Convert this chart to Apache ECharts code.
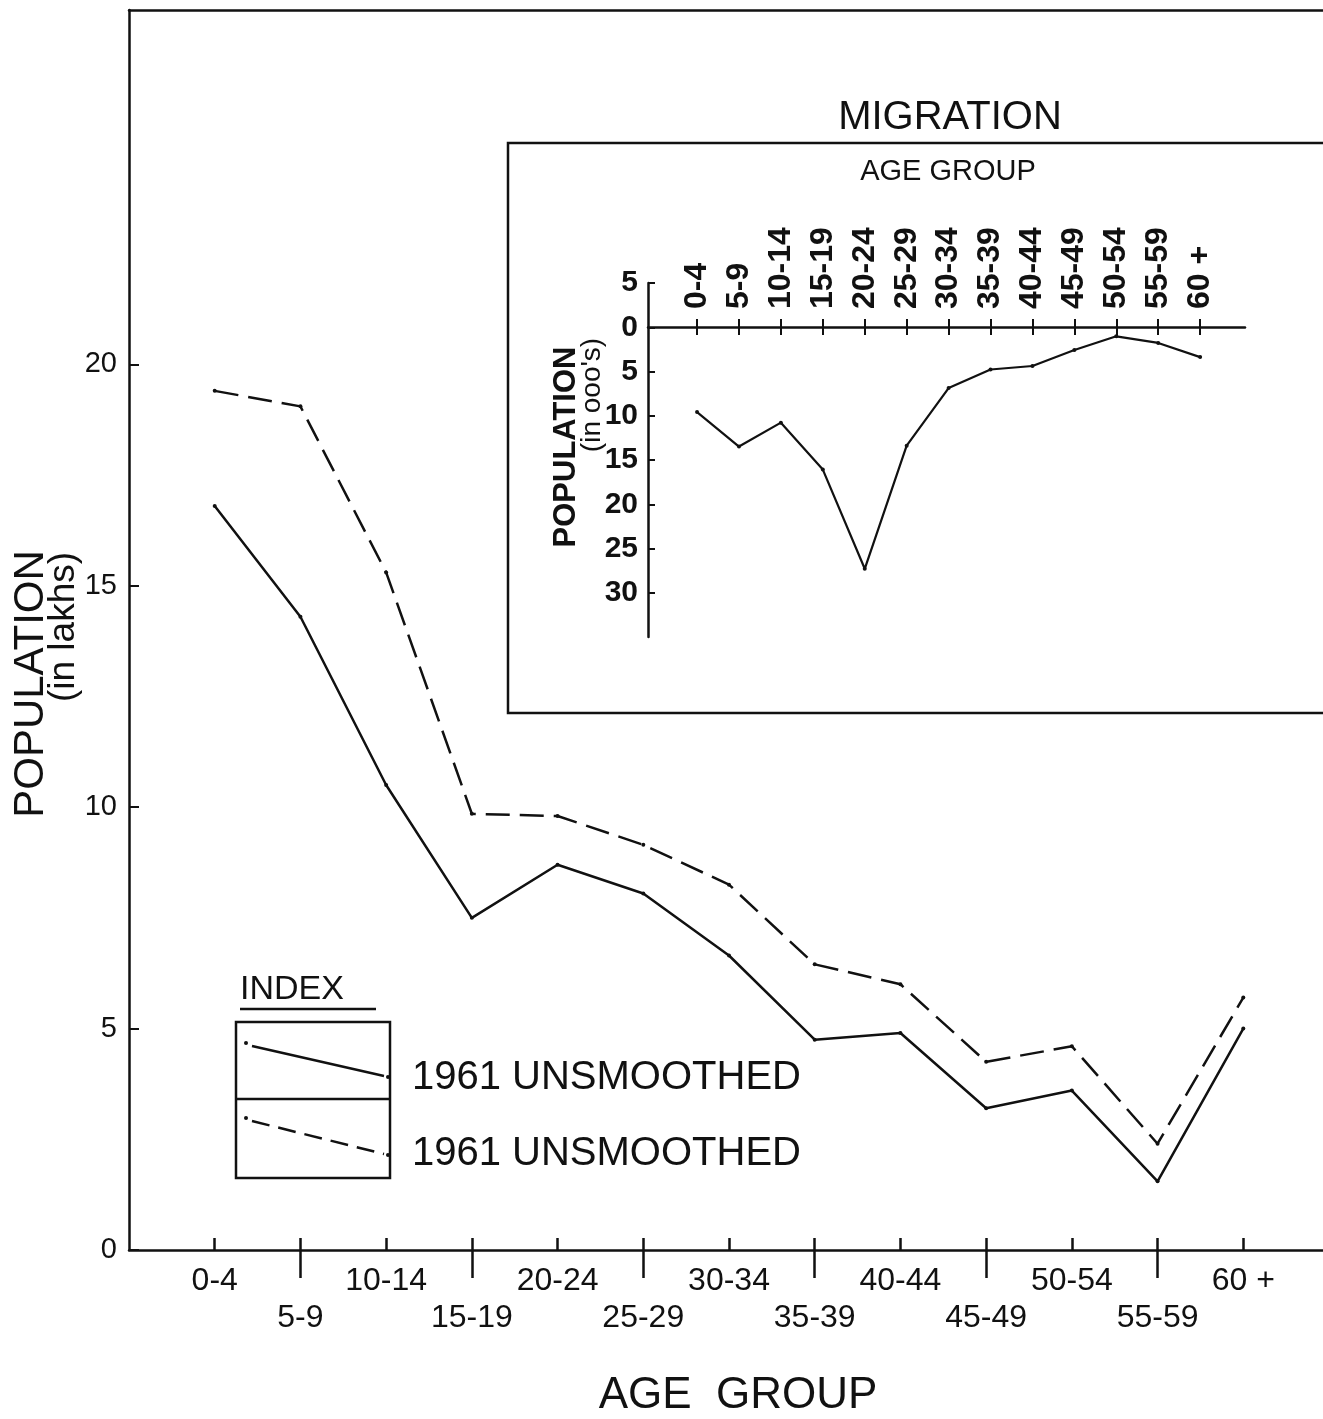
<!DOCTYPE html>
<html>
<head>
<meta charset="utf-8">
<script src="https://cdn.jsdelivr.net/npm/echarts@6/dist/echarts.min.js"></script>
<style>
html,body{margin:0;padding:0;background:#fff;}
#chart{width:1323px;height:1419px;}
</style>
</head>
<body>
<div id="chart"></div>
<script>
// ---- data ----
var ageGroups = ['0-4','5-9','10-14','15-19','20-24','25-29','30-34','35-39','40-44','45-49','50-54','55-59','60 +'];
var popSolid  = [16.8, 14.3, 10.5, 7.5, 8.7, 8.05, 6.65, 4.75, 4.9, 3.2, 3.6, 1.55, 5.0];
var popDashed = [19.4, 19.05, 15.3, 9.85, 9.8, 9.15, 8.25, 6.45, 6.0, 4.25, 4.6, 2.4, 5.7];
var migration = [9.6, 13.5, 10.8, 16.1, 27.3, 13.4, 6.9, 4.8, 4.4, 2.6, 1.05, 1.8, 3.4];
var mainYTicks = [0, 5, 10, 15, 20];
var insetYTicks = [-5, 0, 5, 10, 15, 20, 25, 30];
var legendLabels = ['1961 UNSMOOTHED', '1961 UNSMOOTHED'];

var FONT = 'Liberation Sans';
var idx = ageGroups.map(function(_, i){ return i; });
var evenIdx = idx.filter(function(i){ return i % 2 === 0; });
var oddIdx = idx.filter(function(i){ return i % 2 === 1; });
function pairs(arr){ return arr.map(function(v, i){ return [i, v]; }); }
function catLabel(v){ var i = Math.round(v); return ageGroups[i] || ''; }

var chart = echarts.init(document.getElementById('chart'));
var AX = {color: '#111', width: 2.5};

var option = {
  backgroundColor: '#fff',
  animation: false,
  grid: [
    {left: 129, right: 0, top: 10, bottom: 169},
    {left: 648, right: 78, top: 327, bottom: 782},
    {left: 648, right: 78, top: 283, bottom: 782}
  ],
  xAxis: [
    { gridIndex: 0, type: 'value', min: -1, max: 12.93, position: 'bottom',
      splitLine: {show: false},
      axisLine: {show: true, onZero: false, lineStyle: AX},
      axisTick: {show: true, inside: true, length: 12, customValues: idx, lineStyle: AX},
      axisLabel: {show: true, customValues: evenIdx, formatter: catLabel, margin: 15,
        fontSize: 32, color: '#111', fontFamily: FONT}
    },
    { gridIndex: 0, type: 'value', min: -1, max: 12.93, position: 'bottom',
      splitLine: {show: false},
      axisLine: {show: false, onZero: false},
      axisTick: {show: true, inside: false, length: 28, customValues: oddIdx, lineStyle: AX},
      axisLabel: {show: true, customValues: oddIdx, formatter: catLabel, margin: 52,
        fontSize: 32, color: '#111', fontFamily: FONT}
    },
    { gridIndex: 0, type: 'value', min: -1, max: 12.93, position: 'top',
      splitLine: {show: false},
      axisLine: {show: true, onZero: false, lineStyle: AX},
      axisTick: {show: false}, axisLabel: {show: false}
    },
    { gridIndex: 1, type: 'value', min: -1.17, max: 13.07, position: 'top',
      splitLine: {show: false},
      axisLine: {show: true, onZero: false, lineStyle: AX},
      axisTick: {show: true, inside: true, length: 8, customValues: idx, lineStyle: {color:'#111', width: 2}},
      axisLabel: {show: true, customValues: idx, formatter: catLabel, rotate: -90, margin: 18,
        fontSize: 32, fontWeight: 'bold', color: '#111', fontFamily: FONT}
    },
    { gridIndex: 1, type: 'value', min: -1.17, max: 13.07, position: 'top',
      splitLine: {show: false},
      axisLine: {show: false, onZero: false},
      axisTick: {show: true, inside: false, length: 8, customValues: idx, lineStyle: {color:'#111', width: 2}},
      axisLabel: {show: false}
    },
    { gridIndex: 2, type: 'value', min: -1.17, max: 13.07, show: false }
  ],
  yAxis: [
    { gridIndex: 0, type: 'value', min: 0, max: 28,
      splitLine: {show: false},
      axisLine: {show: true, onZero: false, lineStyle: AX},
      axisTick: {show: true, inside: true, length: 10, customValues: mainYTicks, lineStyle: {color:'#111', width: 2}},
      axisLabel: {show: true, customValues: mainYTicks, margin: 12, fontSize: 29, color: '#111', fontFamily: FONT}
    },
    { gridIndex: 1, type: 'value', min: 0, max: 35, inverse: true, show: false,
      axisLine: {onZero: false}
    },
    { gridIndex: 2, type: 'value', min: -5, max: 35, inverse: true,
      splitLine: {show: false},
      axisLine: {show: true, onZero: false, lineStyle: AX},
      axisTick: {show: true, inside: true, length: 7, customValues: insetYTicks, lineStyle: {color:'#111', width: 2}},
      axisLabel: {show: true, customValues: insetYTicks, margin: 10,
        formatter: function(v){ return String(Math.abs(v)); },
        fontSize: 30, fontWeight: 'bold', color: '#111', fontFamily: FONT}
    }
  ],
  series: [
    { name: legendLabels[0], type: 'line', xAxisIndex: 0, yAxisIndex: 0, data: pairs(popSolid),
      symbol: 'circle', symbolSize: 4, itemStyle: {color: '#111'},
      lineStyle: {color: '#111', width: 2.5, type: 'solid'} },
    { name: legendLabels[1] + ' ', type: 'line', xAxisIndex: 0, yAxisIndex: 0, data: pairs(popDashed),
      symbol: 'circle', symbolSize: 4, itemStyle: {color: '#111'},
      lineStyle: {color: '#111', width: 2.5, type: [24, 10]} },
    { name: 'MIGRATION', type: 'line', xAxisIndex: 3, yAxisIndex: 1, data: pairs(migration),
      symbol: 'circle', symbolSize: 4, itemStyle: {color: '#111'},
      lineStyle: {color: '#111', width: 2.2, type: 'solid'} }
  ],
  graphic: [
    // inset frame
    {type: 'rect', z: -1, shape: {x: 508, y: 143, width: 900, height: 570},
      style: {fill: '#fff', stroke: '#111', lineWidth: 2.5}},
    {type: 'text', style: {text: 'MIGRATION', x: 950, y: 118, textAlign: 'center', textVerticalAlign: 'middle', fontSize: 40, fontFamily: FONT, fill: '#111'}},
    {type: 'text', style: {text: 'AGE GROUP', x: 948, y: 172, textAlign: 'center', textVerticalAlign: 'middle', fontSize: 29, fontFamily: FONT, fill: '#111'}},
    {type: 'text', x: 566, y: 447, rotation: Math.PI/2, style: {text: 'POPULATION', textAlign: 'center', textVerticalAlign: 'middle', fontSize: 31, fontWeight: 'bold', fontFamily: FONT, fill: '#111'}},
    {type: 'text', x: 592, y: 395, rotation: Math.PI/2, style: {text: "(in ooo's)", textAlign: 'center', textVerticalAlign: 'middle', fontSize: 28, fontFamily: FONT, fill: '#111'}},
    // main axis titles
    {type: 'text', x: 31, y: 684, rotation: Math.PI/2, style: {text: 'POPULATION', textAlign: 'center', textVerticalAlign: 'middle', fontSize: 42, fontFamily: FONT, fill: '#111'}},
    {type: 'text', x: 64, y: 627, rotation: Math.PI/2, style: {text: '(in lakhs)', textAlign: 'center', textVerticalAlign: 'middle', fontSize: 37, fontFamily: FONT, fill: '#111'}},
    {type: 'text', style: {text: 'AGE  GROUP', x: 738, y: 1396, textAlign: 'center', textVerticalAlign: 'middle', fontSize: 44, fontFamily: FONT, fill: '#111'}},
    // legend
    {type: 'text', style: {text: 'INDEX', x: 240, y: 990, textAlign: 'left', textVerticalAlign: 'middle', fontSize: 34, fontFamily: FONT, fill: '#111'}},
    {type: 'line', shape: {x1: 240, y1: 1009, x2: 376, y2: 1009}, style: {stroke: '#111', lineWidth: 2.5}},
    {type: 'rect', shape: {x: 236, y: 1022, width: 154, height: 156}, style: {fill: 'none', stroke: '#111', lineWidth: 2.5}},
    {type: 'line', shape: {x1: 236, y1: 1099, x2: 390, y2: 1099}, style: {stroke: '#111', lineWidth: 2.5}},
    {type: 'line', shape: {x1: 252, y1: 1046, x2: 384, y2: 1076}, style: {stroke: '#111', lineWidth: 2.5}},
    {type: 'circle', shape: {cx: 246, cy: 1043, r: 2}, style: {fill: '#111'}},
    {type: 'circle', shape: {cx: 388, cy: 1077, r: 2}, style: {fill: '#111'}},
    {type: 'line', shape: {x1: 252, y1: 1121, x2: 384, y2: 1154}, style: {stroke: '#111', lineWidth: 2.5, lineDash: [18, 9]}},
    {type: 'circle', shape: {cx: 246, cy: 1118, r: 2}, style: {fill: '#111'}},
    {type: 'circle', shape: {cx: 388, cy: 1155, r: 2}, style: {fill: '#111'}},
    {type: 'text', style: {text: legendLabels[0], x: 412, y: 1078, textAlign: 'left', textVerticalAlign: 'middle', fontSize: 40, fontFamily: FONT, fill: '#111'}},
    {type: 'text', style: {text: legendLabels[1], x: 412, y: 1154, textAlign: 'left', textVerticalAlign: 'middle', fontSize: 40, fontFamily: FONT, fill: '#111'}}
  ]
};
chart.setOption(option);
</script>
</body>
</html>
